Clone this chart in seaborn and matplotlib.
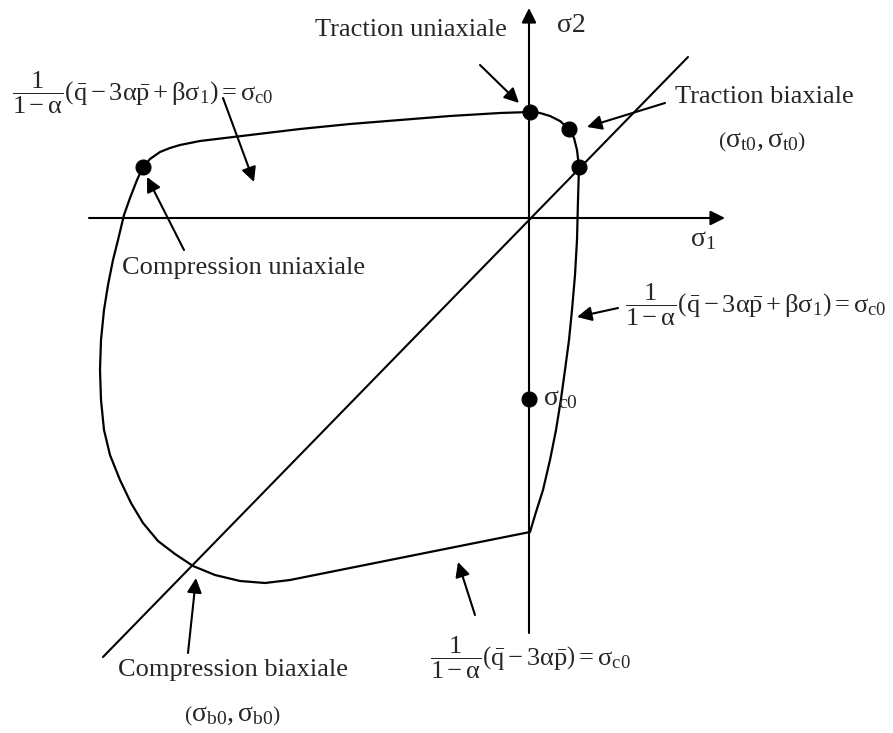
import numpy as np
import pandas as pd
import seaborn as sns
import matplotlib.pyplot as plt

# yield surface contour (pixel coordinates, y downward)
curve_x = [143, 150, 160, 170, 180, 200, 250, 300, 350, 400, 450, 500, 530, 540, 550, 560, 569, 574, 577, 579,
           578, 577, 575, 572, 569, 565, 561, 556, 550, 543, 536, 530,
           480, 420, 360, 320, 290, 265, 240, 215, 193, 175, 158, 143, 131, 120, 110, 104, 101, 100,
           101, 104, 108, 113, 118, 124, 130, 137, 143]
curve_y = [167, 159, 152, 148, 145, 141, 135, 129, 124, 120, 116, 113, 112, 113, 116, 121, 129, 138, 150, 167,
           200, 240, 275, 310, 340, 370, 399, 430, 460, 490, 512, 532,
           542, 554, 566, 574, 580, 583, 581, 575, 566, 554, 541, 523, 503, 480, 455, 430, 400, 370,
           340, 310, 285, 260, 240, 215, 198, 180, 167]

# marked points: compression uniaxiale, traction uniaxiale, traction biaxiale (x2), sigma_c0
pts_x = [143, 530, 569, 579, 529]
pts_y = [167, 112, 129, 167, 399]

# axes and hydrostatic line
h_axis = [(89, 218), (725, 218)]
v_axis = [(529, 633), (529, 8)]
diag = [(103, 657), (688, 57)]

# annotation arrows (tail, head)
arrows = [
    ((223, 98), (254, 182)),
    ((184, 250), (147, 177)),
    ((480, 65), (519, 103)),
    ((665, 103), (587, 127)),
    ((618, 308), (577, 317)),
    ((475, 615), (458, 562)),
    ((188, 653), (196, 578)),
]

sns.set_style('white')
plt.rcParams['mathtext.fontset'] = 'custom'
plt.rcParams['mathtext.rm'] = 'Liberation Serif'
plt.rcParams['mathtext.it'] = 'Liberation Serif:italic'
plt.rcParams['font.family'] = ['Liberation Serif', 'DejaVu Serif']

fig = plt.figure(figsize=(8.93, 7.33), dpi=100)
ax = fig.add_axes([0, 0, 1, 1])
ax.set_xlim(0, 893)
ax.set_ylim(733, 0)
ax.axis('off')

curve = pd.DataFrame({'x': curve_x, 'y': curve_y})
sns.lineplot(data=curve, x='x', y='y', sort=False, estimator=None, color='black', linewidth=1.6, ax=ax)

line_kw = dict(color='black', linewidth=1.5)
ax.plot([d[0] for d in diag], [d[1] for d in diag], **line_kw)
for axis in (h_axis, v_axis):
    ax.annotate('', xy=axis[1], xytext=axis[0],
                arrowprops=dict(arrowstyle='-|>', color='black', lw=1.5, mutation_scale=22,
                                shrinkA=0, shrinkB=0))

sns.scatterplot(x=pts_x, y=pts_y, color='black', s=115, edgecolor='black', zorder=5, ax=ax)

for tail, head in arrows:
    ax.annotate('', xy=head, xytext=tail,
                arrowprops=dict(arrowstyle='-|>', color='black', lw=1.5, mutation_scale=22,
                                shrinkA=0, shrinkB=0))

fs = 19
eq_full = r'$\dfrac{\mathrm{1}}{\mathrm{1-α}}\left(\bar{\mathrm{q}}-\mathrm{3α}\bar{\mathrm{p}}+\mathrm{βσ_1}\right)=\mathrm{σ_{c0}}$'
eq_short = r'$\dfrac{\mathrm{1}}{\mathrm{1-α}}\left(\bar{\mathrm{q}}-\mathrm{3α}\bar{\mathrm{p}}\right)=\mathrm{σ_{c0}}$'

ax.text(12, 93, eq_full, fontsize=fs, ha='left', va='center')
ax.text(625, 305, eq_full, fontsize=fs, ha='left', va='center')
ax.text(430, 658, eq_short, fontsize=fs, ha='left', va='center')

ax.text(411, 30, 'Traction uniaxiale', fontsize=fs, ha='center', va='center')
ax.text(557, 25, 'σ2', fontsize=fs + 1, ha='left', va='center')
ax.text(675, 97, 'Traction biaxiale', fontsize=fs, ha='left', va='center')
ax.text(762, 142, r'$\left(\mathrm{σ_{t0},σ_{t0}}\right)$', fontsize=fs + 1, ha='center', va='center')
ax.text(690, 240, r'$\mathrm{σ_1}$', fontsize=fs + 1, ha='left', va='center')
ax.text(122, 268, 'Compression uniaxiale', fontsize=fs, ha='left', va='center')
ax.text(543, 399, r'$\mathrm{σ_{c0}}$', fontsize=fs + 1, ha='left', va='center')
ax.text(233, 670, 'Compression biaxiale', fontsize=fs, ha='center', va='center')
ax.text(232, 716, r'$\left(\mathrm{σ_{b0},σ_{b0}}\right)$', fontsize=fs + 1, ha='center', va='center')

fig.savefig('out.png', dpi=100)
